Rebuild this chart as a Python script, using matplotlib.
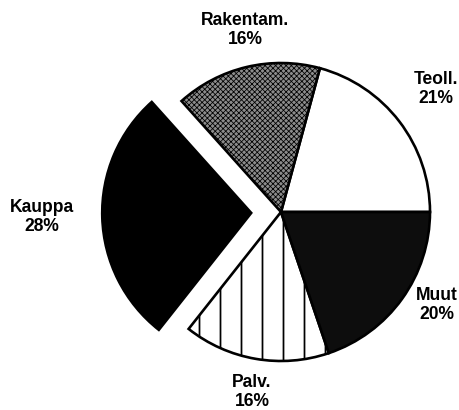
import matplotlib
matplotlib.use('Agg')
from matplotlib import pyplot as plt

# slice data, counter-clockwise from 3 o'clock
labels = ['Teoll.', 'Rakentam.', 'Kauppa', 'Palv.', 'Muut']
shares = [21, 16, 28, 16, 20]
explode = [0, 0, 0.2, 0, 0]   # fraction of radius

faces = ['white', '#8c8c8c', 'black', 'white', '#0d0d0d']
hatches = [None, 'xxxxxxxx', None, '|', None]

plt.rcParams['font.family'] = ['Liberation Sans', 'DejaVu Sans']
plt.rcParams['hatch.linewidth'] = 1.0

dpi = 126
fig = plt.figure(figsize=(459 / dpi, 410 / dpi), dpi=dpi)
ax = fig.add_axes([0, 0, 1, 1])

r = 149
# pie's explode offset is in data units, so scale by radius
wedges, _ = ax.pie(shares, explode=[e * r for e in explode], radius=r,
                   startangle=0, counterclock=True, colors=faces,
                   wedgeprops=dict(edgecolor='black', linewidth=1.5))
for w, h in zip(wedges, hatches):
    if h:
        w.set_hatch(h)
        if h.startswith('x') and hasattr(w, 'set_hatch_linewidth'):
            w.set_hatch_linewidth(0.45)

# label positions (pixels relative to pie centre)
label_pos = [(155, 123), (-36, 182), (-239, -5), (-29, -180), (156, -93)]
for name, val, (x, y) in zip(labels, shares, label_pos):
    ax.text(x, y, f'{name}\n{val}%', ha='center', va='center',
            fontsize=10, fontweight='bold', linespacing=1.15)

# one data unit = one pixel, pie centre at (281, 212) from top-left
ax.set_xlim(-281, 459 - 281)
ax.set_ylim(-(410 - 212), 212)
ax.set_aspect('equal')
ax.axis('off')

fig.savefig('out.png', dpi=dpi)
